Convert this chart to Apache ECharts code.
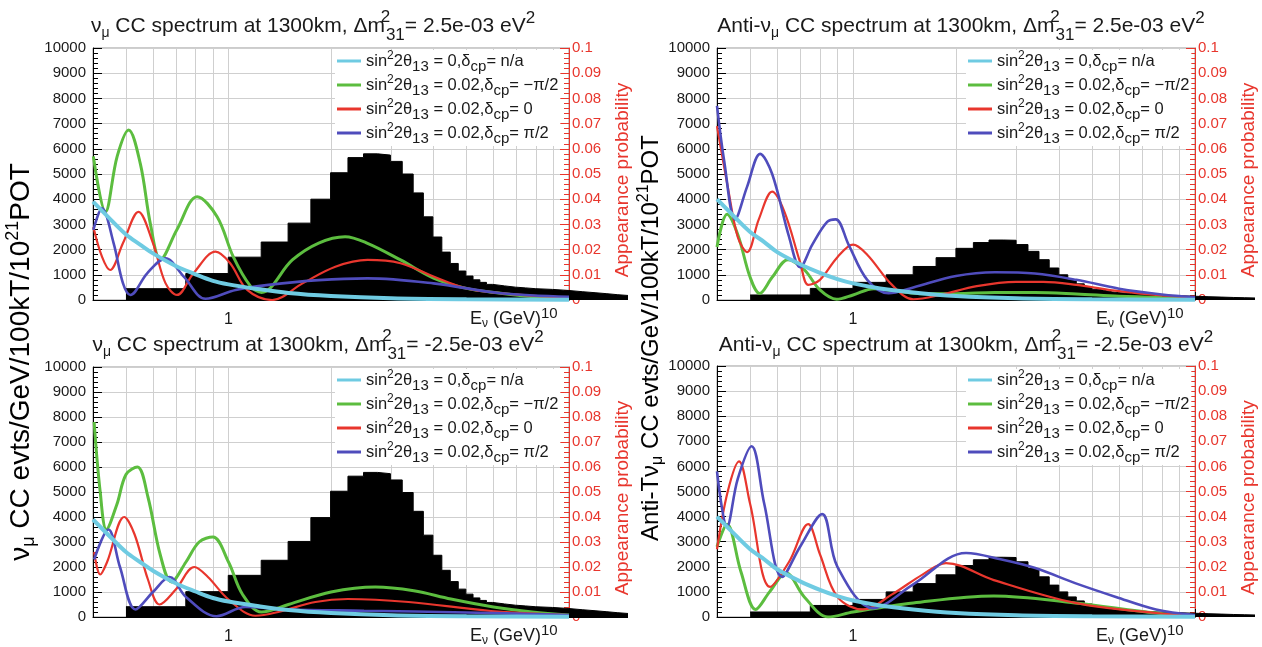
<!DOCTYPE html>
<html><head><meta charset="utf-8">
<script src="https://cdn.jsdelivr.net/npm/echarts@6/dist/echarts.min.js"></script>
<style>html,body{margin:0;padding:0;background:#fff}#c{width:1262px;height:647px}</style>
</head><body><div id="c"></div><script>
// ---------- data ----------
const EDGES = [0.5,0.75,1.0,1.25,1.5,1.75,2.0,2.25,2.5,2.75,3.0,3.25,3.5,3.75,4.0,4.25,4.5,4.75,5.0,5.25,5.5,5.75,6.0,6.5,7.0,7.5,8.0,9.0,10,11,12,13,14,15];
const NU_HIST = [450,1050,1700,2300,3050,4000,5050,5650,5800,5750,5500,5000,4250,3300,2500,1900,1450,1150,950,800,700,620,560,510,480,450,420,380,330,290,250,210,180];
const ANTI_HIST = [200,460,700,1000,1330,1680,2050,2280,2380,2370,2200,1930,1600,1270,1000,800,640,520,430,370,320,290,260,230,210,190,170,150,130,115,100,90,80];
const GRID_X = [0.5,0.6,0.7,0.8,0.9,1,2,3,4,5,6,7,8,9];

const CYAN_NU = [[0.4,0.039],[0.45,0.032],[0.5,0.026],[0.55,0.022],[0.6,0.0185],[0.7,0.0135],[0.8,0.0102],[0.9,0.0076],[1.0,0.0062],[1.2,0.0045],[1.5,0.0028],[2,0.0016],[3,0.0007],[5,0.0003],[10,0.0001]];
const CYAN_ANTI = [[0.4,0.040],[0.45,0.033],[0.5,0.027],[0.55,0.023],[0.6,0.019],[0.7,0.0142],[0.8,0.0108],[0.9,0.0083],[1.0,0.0066],[1.2,0.0046],[1.5,0.003],[2,0.0016],[3,0.0007],[5,0.0003],[10,0.0001]];

const TL_GREEN = [[0.401,0.057],[0.435,0.035],[0.471,0.057],[0.509,0.0675],[0.551,0.054],[0.59,0.030],[0.631,0.016],[0.706,0.028],[0.809,0.041],[0.926,0.033],[1.034,0.017],[1.16,0.0055],[1.25,0.003],[1.54,0.0159],[1.84,0.0226],[2.2,0.0251],[2.56,0.0225],[3.2,0.0159],[4.0,0.0087],[5.0,0.0046],[6.3,0.0027],[7.9,0.0013],[10,0.0007]];
const TL_RED = [[0.401,0.029],[0.425,0.0172],[0.449,0.0119],[0.49,0.0226],[0.544,0.035],[0.60,0.0226],[0.653,0.0067],[0.706,0.002],[0.79,0.0107],[0.916,0.0192],[1.01,0.0147],[1.135,0.004],[1.344,0.0],[1.65,0.0066],[2.06,0.0132],[2.56,0.0159],[3.2,0.0146],[4.0,0.0093],[5.0,0.0046],[6.3,0.0027],[7.9,0.0016],[10,0.0009]];
const TL_BLUE = [[0.401,0.0278],[0.425,0.0364],[0.46,0.0225],[0.49,0.0066],[0.515,0.002],[0.577,0.0106],[0.653,0.0165],[0.739,0.0093],[0.856,0.0005],[1.05,0.004],[1.31,0.006],[1.84,0.0079],[2.56,0.0086],[4.0,0.0066],[6.3,0.0027],[10,0.0013]];

const TR_GREEN = [[0.400,0.021],[0.428,0.034],[0.46,0.026],[0.5,0.009],[0.533,0.0026],[0.58,0.009],[0.645,0.016],[0.72,0.012],[0.8,0.004],[0.895,0.0003],[1.0,0.002],[1.15,0.0045],[1.35,0.0035],[1.6,0.0025],[2.0,0.0025],[2.6,0.0030],[3.4,0.0030],[4.5,0.0024],[6,0.0015],[8,0.001],[10,0.0008]];
const TR_RED = [[0.4,0.069],[0.43,0.045],[0.46,0.025],[0.49,0.019],[0.53,0.032],[0.58,0.043],[0.63,0.035],[0.7,0.015],[0.74,0.006],[0.8,0.008],[0.9,0.017],[1.0,0.022],[1.1,0.018],[1.3,0.006],[1.5,0.0003],[1.8,0.002],[2.3,0.0055],[3.0,0.0072],[3.6,0.0072],[4.5,0.006],[6,0.0035],[8,0.0018],[10,0.001]];
const TR_BLUE = [[0.4,0.077],[0.42,0.055],[0.452,0.032],[0.49,0.045],[0.535,0.058],[0.58,0.05],[0.65,0.025],[0.70,0.013],[0.76,0.022],[0.84,0.031],[0.89,0.032],[0.97,0.022],[1.1,0.008],[1.27,0.0027],[1.5,0.005],[2.0,0.0095],[2.6,0.011],[3.4,0.0105],[4.5,0.008],[6,0.0045],[8,0.0022],[10,0.0011]];

const BL_GREEN = [[0.403,0.078],[0.42,0.05],[0.438,0.035],[0.47,0.045],[0.50,0.057],[0.54,0.060],[0.58,0.048],[0.63,0.025],[0.68,0.014],[0.75,0.022],[0.82,0.030],[0.9,0.032],[1.0,0.022],[1.1,0.009],[1.25,0.002],[1.5,0.005],[2.0,0.0100],[2.7,0.012],[3.5,0.0105],[4.5,0.0072],[6,0.004],[7.8,0.002],[10,0.0008]];
const BL_RED = [[0.403,0.026],[0.42,0.017],[0.44,0.022],[0.494,0.040],[0.53,0.033],[0.58,0.015],[0.627,0.005],[0.7,0.011],[0.794,0.020],[0.87,0.016],[1.0,0.007],[1.2,0.0005],[1.4,0.002],[1.8,0.006],[2.24,0.0072],[3.38,0.006],[5.9,0.0024],[10,0.0008]];
const BL_BLUE = [[0.403,0.023],[0.444,0.035],[0.48,0.02],[0.533,0.003],[0.6,0.01],[0.671,0.016],[0.75,0.008],[0.922,0.0003],[1.12,0.004],[1.5,0.003],[2.5,0.0025],[5,0.0018],[10,0.0008]];

const BR_GREEN = [[0.4,0.028],[0.428,0.037],[0.47,0.018],[0.519,0.003],[0.57,0.010],[0.637,0.0175],[0.72,0.008],[0.845,0.0],[1.0,0.002],[1.5,0.0056],[2.58,0.0084],[4.46,0.0056],[7.69,0.0016],[10,0.0006]];
const BR_RED = [[0.4,0.027],[0.43,0.05],[0.464,0.062],[0.5,0.045],[0.572,0.012],[0.65,0.022],[0.739,0.037],[0.8,0.025],[0.9,0.008],[1.07,0.003],[1.3,0.009],[1.6,0.017],[1.87,0.0215],[2.58,0.0147],[4.46,0.0056],[7.69,0.0016],[10,0.0006]];
const BR_BLUE = [[0.4,0.058],[0.428,0.036],[0.46,0.055],[0.505,0.068],[0.55,0.045],[0.62,0.016],[0.7,0.028],[0.812,0.041],[0.9,0.02],[1.144,0.0035],[1.5,0.013],[2.14,0.0255],[2.7,0.023],[3.41,0.0195],[4.46,0.0135],[5.87,0.008],[7.69,0.003],[10,0.0008]];

const TITLES = ['ν|μ| CC spectrum at 1300km, Δm|= 2.5e-03 eV', 'Anti-ν|μ| CC spectrum at 1300km, Δm|= 2.5e-03 eV',
                'ν|μ| CC spectrum at 1300km, Δm|= -2.5e-03 eV', 'Anti-ν|μ| CC spectrum at 1300km, Δm|= -2.5e-03 eV'];
const LEG_NAMES = ['c0','gm','r0','bp'];
const LEG_TEXT = {c0:['0','n/a'], gm:['0.02','−π/2'], r0:['0.02','0'], bp:['0.02','π/2']};

// ---------- style / layout ----------
const FONT = "'Liberation Sans', Arial, Helvetica, sans-serif";
const INK = '#1a1a1a';
const RED = '#e8362d';
const COL = {c0:'#6fcbe2', gm:'#5cbd3f', r0:'#e8362d', bp:'#4f4cbc'};
const panels = [
  {gl:93, gt:48, gw:476, hw:535, gh:252, hist:NU_HIST, cy:CYAN_NU, g:TL_GREEN, r:TL_RED, b:TL_BLUE, lx:335, ly:50, tx:308, ty:3},
  {gl:717, gt:48, gw:478, hw:538, gh:252, hist:ANTI_HIST, cy:CYAN_ANTI, g:TR_GREEN, r:TR_RED, b:TR_BLUE, lx:966, ly:50, tx:956, ty:3},
  {gl:93, gt:367, gw:476, hw:535, gh:251, hist:NU_HIST, cy:CYAN_NU, g:BL_GREEN, r:BL_RED, b:BL_BLUE, lx:335, ly:369, tx:313, ty:322},
  {gl:717, gt:366, gw:478, hw:538, gh:251, hist:ANTI_HIST, cy:CYAN_ANTI, g:BR_GREEN, r:BR_RED, b:BR_BLUE, lx:966, ly:369, tx:961, ty:322}
];

const richBase = {
  t:{fontSize:16.5, fontFamily:FONT, color:INK},
  sp:{fontSize:12, fontFamily:FONT, color:INK, padding:[0,0,10,0]},
  sb:{fontSize:15, fontFamily:FONT, color:INK, padding:[11,0,0,0]}
};
const titleRich = {
  t:{fontSize:21, fontFamily:FONT, color:INK, fontWeight:'normal'},
  sb:{fontSize:14, fontFamily:FONT, color:INK, fontWeight:'normal', padding:[15,0,0,0]},
  sb2:{fontSize:17, fontFamily:FONT, color:INK, fontWeight:'normal', padding:[19,0,0,0]},
  sp0:{fontSize:17, fontFamily:FONT, color:INK, fontWeight:'normal', padding:[0,0,17,0], width:1},
  sp:{fontSize:17, fontFamily:FONT, color:INK, fontWeight:'normal', padding:[0,0,15,0]}
};

const grid=[], xAxis=[], yAxis=[], series=[], legend=[], title=[];
function histData(vals){
  const d = vals.map((v,i)=>[EDGES[i], v]);
  d.push([EDGES[EDGES.length-1], vals[vals.length-1]]);
  return d;
}
panels.forEach((p,i)=>{
  grid.push({left:p.gl, top:p.gt, width:p.gw, height:p.gh, show:true, borderColor:'#999', borderWidth:1});
  grid.push({left:p.gl, top:p.gt, width:p.hw, height:p.gh, show:false});
  xAxis.push({type:'log', logBase:10, gridIndex:2*i, min:0.4, max:10,
    axisLine:{show:true, onZero:false, lineStyle:{color:'#000'}},
    axisTick:{show:true, inside:true, length:8, lineStyle:{color:'#000'}},
    splitLine:{show:false},
    axisLabel:{margin:12, fontSize:16, fontFamily:FONT, color:INK,
      formatter:v=> Math.abs(v-1)<1e-6 ? '1' : ''},
    name:'{t|E}{sb|ν}{t| (GeV)}{sp|10}', nameLocation:'end', nameGap:-99,
    nameTextStyle:{align:'left', verticalAlign:'top', padding:[6,0,0,0],
      rich:{t:{fontSize:18, fontFamily:FONT, color:INK}, sb:{fontSize:12, fontFamily:FONT, color:INK, padding:[9,0,0,0]}, sp:{fontSize:15, fontFamily:FONT, color:INK, padding:[0,0,12,0]}}}
  });
  xAxis.push({type:'log', logBase:10, gridIndex:2*i+1, min:0.4, max:15, show:false});
  yAxis.push({type:'value', gridIndex:2*i, position:'left', min:0, max:10000, interval:1000,
    axisLine:{show:true, lineStyle:{color:'#000'}},
    axisTick:{show:true, inside:true, length:9, lineStyle:{color:'#000'}},
    minorTick:{show:true, splitNumber:5, length:5, lineStyle:{color:'#000'}},
    splitLine:{show:true, lineStyle:{color:'#cfcfcf', width:1}},
    axisLabel:{margin:7, fontSize:15, fontFamily:FONT, color:INK, formatter:v=>String(v)}});
  yAxis.push({type:'value', gridIndex:2*i, position:'right', min:0, max:0.1, interval:0.01,
    axisLine:{show:true, lineStyle:{color:RED}},
    axisTick:{show:true, inside:true, length:9, lineStyle:{color:RED}},
    minorTick:{show:true, splitNumber:5, length:5, lineStyle:{color:RED}},
    splitLine:{show:false},
    axisLabel:{margin:3, fontSize:15, fontFamily:FONT, color:RED, formatter:v=>String(+v.toFixed(2))},
    name:'Appearance probability', nameLocation:'middle', nameGap:44,
    nameTextStyle:{color:RED, fontSize:19, fontFamily:FONT, padding:[0,12,0,0]}});
  yAxis.push({type:'value', gridIndex:2*i+1, min:0, max:10000, show:false});

  series.push({type:'line', name:'grid', xAxisIndex:2*i, yAxisIndex:3*i, data:[], silent:true, z:1,
    markLine:{silent:true, z:1, symbol:['none','none'], label:{show:false}, animation:false,
      lineStyle:{color:'#cfcfcf', type:'solid', width:1}, data:GRID_X.map(v=>({xAxis:v}))}});
  series.push({type:'line', name:'hist', xAxisIndex:2*i+1, yAxisIndex:3*i+2, step:'end', symbol:'none',
    data:histData(p.hist), lineStyle:{color:'#000', width:1}, areaStyle:{color:'#000', opacity:1}, z:2});
  const cur = [['gm',p.g,3],['r0',p.r,2.2],['bp',p.b,2.6],['c0',p.cy,4]];
  cur.forEach(([n,d,w])=>{
    series.push({type:'line', name:n, xAxisIndex:2*i, yAxisIndex:3*i+1, data:d, smooth:0.35, symbol:'none',
      lineStyle:{color:COL[n], width:w}, itemStyle:{color:COL[n]}, z:3});
  });
  legend.push({data:LEG_NAMES, orient:'vertical', left:p.lx, top:p.ly, itemWidth:24, itemHeight:3, icon:'rect',
    itemGap:0, backgroundColor:'#fff', padding:[0,2,0,2], selectedMode:false, z:6,
    formatter:n=>`{t|sin}{sp|2}{t|2θ}{sb|13}{t| = ${LEG_TEXT[n][0]},δ}{sb|cp}{t|= ${LEG_TEXT[n][1]}}`,
    textStyle:{rich:richBase}});
  const parts = TITLES[i].split('|');
  title.push({left:p.tx, top:p.ty, textAlign:'center',
    text:`{t|${parts[0]}}{sb|${parts[1]}}{t|${parts[2]}}{sp0|2}{sb2|31}{t|${parts[3]}}{sp|2}`,
    textStyle:{fontWeight:'normal', rich:titleRich}});
});

function labelRich(fs){
  return {
    t:{fontSize:fs, fontFamily:FONT, color:INK},
    sb:{fontSize:Math.round(fs*0.66), fontFamily:FONT, color:INK, padding:[Math.round(fs*0.58),0,0,0]},
    sp:{fontSize:Math.round(fs*0.66), fontFamily:FONT, color:INK, padding:[0,0,Math.round(fs*0.58),0]}
  };
}
const graphic = [
  {type:'text', x:21, y:362, rotation:Math.PI/2, z:10, style:{text:'{t|ν}{sb|μ}{t| CC evts/GeV/100kT/10}{sp|21}{t|POT}', rich:labelRich(28), align:'center', verticalAlign:'middle'}},
  {type:'text', x:651, y:338, rotation:Math.PI/2, z:10, style:{text:'{t|Anti-Tν}{sb|μ}{t| CC evts/GeV/100kT/10}{sp|21}{t|POT}', rich:labelRich(24), align:'center', verticalAlign:'middle'}}
];

const chart = echarts.init(document.getElementById('c'), null, {renderer:'canvas'});
chart.setOption({animation:false, backgroundColor:'#fff', grid, xAxis, yAxis, series, legend, title, graphic});
</script></body></html>
